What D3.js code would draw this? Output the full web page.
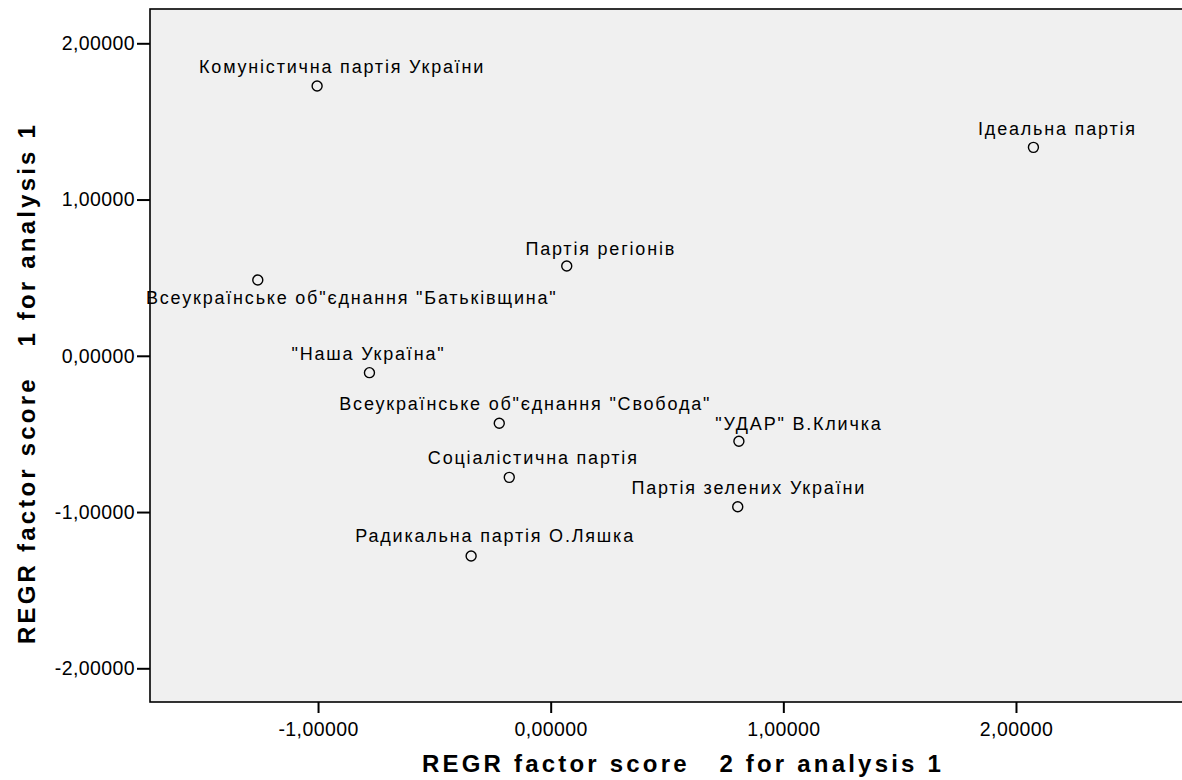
<!DOCTYPE html>
<html><head><meta charset="utf-8">
<script src="https://cdn.jsdelivr.net/npm/d3@7"></script>
<style>
body{margin:0;background:#fff;}
svg text{font-family:"Liberation Sans",Arial,sans-serif;fill:#000;}
</style></head>
<body><svg id="c" width="1182" height="780"></svg>
<script>
const parties = ["Комуністична партія України","Ідеальна партія","Партія регіонів","Всеукраїнське об\"єднання \"Батьківщина\"","\"Наша Україна\"","Всеукраїнське об\"єднання \"Свобода\"","\"УДАР\" В.Кличка","Соціалістична партія","Партія зелених України","Радикальна партія О.Ляшка"];
const factor2 = [-1.004, 2.075, 0.069, -1.259, -0.779, -0.221, 0.809, -0.178, 0.804, -0.342];
const factor1 = [1.727, 1.334, 0.575, 0.485, -0.108, -0.432, -0.547, -0.778, -0.966, -1.281];
const xTicks = [-1, 0, 1, 2];
const yTicks = [-2, -1, 0, 1, 2];
const xTitle = "REGR factor score   2 for analysis 1";
const yTitle = "REGR factor score   1 for analysis 1";
// label placement (pixel offsets from the marker: dx of text centre, dy of baseline)
const labelDx = [25, 24, 34, 94, -1, 26, 60, 24, 11, 24];
const labelDy = [-13, -12, -11, 24, -13, -13, -11, -13, -13, -14];

const svg = d3.select("#c");
const L = 150, R = 1190, T = 9, B = 702;
const x = d3.scaleLinear().domain([-1.7223, 2.748]).range([L, R]);
const y = d3.scaleLinear().domain([-2.2157, 2.2195]).range([B, T]);
const fmt = v => d3.format(".5f")(v).replace("−", "-").replace(".", ",");

svg.append("rect").attr("x", L).attr("y", T).attr("width", R - L).attr("height", B - T)
  .attr("fill", "#f0f0f0").attr("stroke", "#000").attr("stroke-width", 1.6);

const gx = svg.append("g").attr("transform", `translate(0,${B})`)
  .call(d3.axisBottom(x).tickValues(xTicks).tickFormat(fmt).tickSize(11).tickPadding(6));
const gy = svg.append("g").attr("transform", `translate(${L},0)`)
  .call(d3.axisLeft(y).tickValues(yTicks).tickFormat(fmt).tickSize(13).tickPadding(2));
[gx, gy].forEach(g => {
  g.select(".domain").remove();
  g.selectAll(".tick line").attr("stroke", "#000").attr("stroke-width", 2);
  g.selectAll(".tick text").style("font-size", "19.5px").style("font-family", "Liberation Sans, Arial, sans-serif")
    .style("letter-spacing", "0.4px").attr("fill", "#000");
});
gx.selectAll(".tick text").attr("dy", "0.85em");

svg.append("text").attr("x", 683).attr("y", 772).attr("text-anchor", "middle")
  .style("font-size", "24px").style("font-weight", "bold").style("white-space", "pre")
  .style("letter-spacing", "3.2px").text(xTitle);
svg.append("text").attr("transform", "translate(35,383) rotate(-90)").attr("text-anchor", "middle")
  .style("font-size", "24px").style("font-weight", "bold").style("white-space", "pre")
  .style("letter-spacing", "3.2px").text(yTitle);

const data = parties.map((p, i) => ({p, x: factor2[i], y: factor1[i], dx: labelDx[i], dy: labelDy[i]}));
svg.append("g").selectAll("circle").data(data).join("circle")
  .attr("cx", d => x(d.x)).attr("cy", d => y(d.y)).attr("r", 5)
  .attr("fill", "none").attr("stroke", "#000").attr("stroke-width", 1.4);
svg.append("g").selectAll("text").data(data).join("text")
  .attr("x", d => x(d.x) + d.dx).attr("y", d => y(d.y) + d.dy).attr("text-anchor", "middle")
  .style("font-size", "18px").style("letter-spacing", "1.8px").text(d => d.p);
</script></body></html>
